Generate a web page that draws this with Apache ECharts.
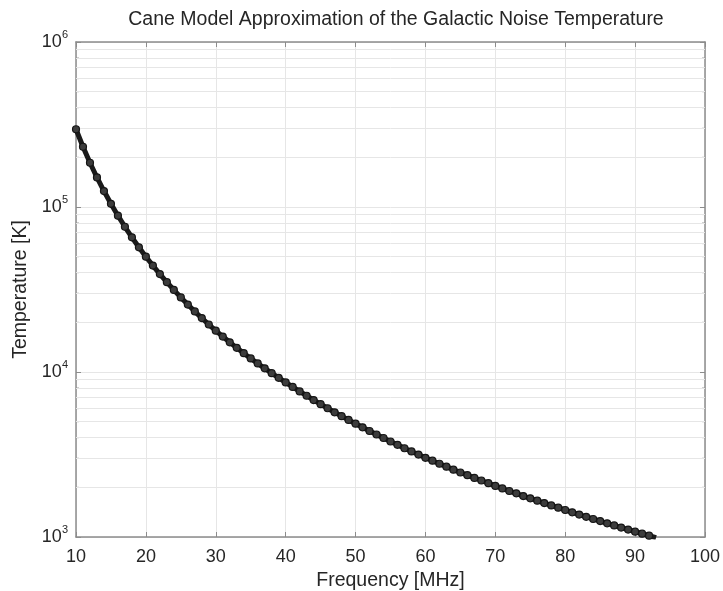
<!DOCTYPE html>
<html>
<head>
<meta charset="utf-8">
<script src="https://cdn.jsdelivr.net/npm/echarts@6/dist/echarts.min.js"></script>
<style>
  html, body { margin: 0; padding: 0; background: #fff; }
  #chart { width: 723px; height: 591px; }
</style>
</head>
<body>
<div id="chart"></div>
<script>
// Frequency samples (MHz)
const freqMHz = [
  10, 11, 12, 13, 14, 15, 16, 17, 18, 19,
  20, 21, 22, 23, 24, 25, 26, 27, 28, 29,
  30, 31, 32, 33, 34, 35, 36, 37, 38, 39,
  40, 41, 42, 43, 44, 45, 46, 47, 48, 49,
  50, 51, 52, 53, 54, 55, 56, 57, 58, 59,
  60, 61, 62, 63, 64, 65, 66, 67, 68, 69,
  70, 71, 72, 73, 74, 75, 76, 77, 78, 79,
  80, 81, 82, 83, 84, 85, 86, 87, 88, 89,
  90, 91, 92, 93
];

// Galactic noise temperature (K)
const tempK = [
  296000, 231800, 185400, 151000, 124900, 104600, 88600, 75900, 65500, 57000,
  50000, 44160, 39220, 35030, 31430, 28320, 25630, 23280, 21220, 19400,
  17800, 16400, 15140, 14010, 13010, 12090, 11270, 10520, 9840, 9220,
  8650, 8120, 7630, 7180, 6760, 6380, 6030, 5700, 5400, 5120,
  4860, 4620, 4390, 4180, 3980, 3790, 3620, 3450, 3300, 3160,
  3020, 2900, 2780, 2670, 2560, 2460, 2370, 2280, 2200, 2120,
  2040, 1970, 1900, 1840, 1770, 1715, 1660, 1605, 1554, 1505,
  1458, 1412, 1368, 1326, 1286, 1248, 1211, 1175, 1141, 1109,
  1077, 1047, 1018, 990
];

// Axis ranges and tick values
const xTicks = [10, 20, 30, 40, 50, 60, 70, 80, 90, 100];
const yDecades = [1e3, 1e4, 1e5, 1e6];
const yMinorTicks = [
  2e3, 3e3, 4e3, 5e3, 6e3, 7e3, 8e3, 9e3,
  2e4, 3e4, 4e4, 5e4, 6e4, 7e4, 8e4, 9e4,
  2e5, 3e5, 4e5, 5e5, 6e5, 7e5, 8e5, 9e5
];

const FONT = '"Liberation Sans", Arial, Helvetica, sans-serif';
const TEXT = '#262626';
const AXIS = '#8c8c8c';
const GRID = '#e6e6e6';

const curve = freqMHz.map((f, i) => [f, tempK[i]]);
const xMin = xTicks[0], xMax = xTicks[xTicks.length - 1];
const yMin = yDecades[0], yMax = yDecades[yDecades.length - 1];

function decadeLabel(v) {
  const e = Math.round(Math.log10(v));
  return '{b|10}{s|' + e + '}';
}
const decadeRich = {
  b: { fontSize: 18, fontFamily: FONT, color: TEXT, verticalAlign: 'middle' },
  s: { fontSize: 11, fontFamily: FONT, color: TEXT, verticalAlign: 'top', padding: [0, 0, 14, 0] }
};

const chart = echarts.init(document.getElementById('chart'), null, { renderer: 'canvas' });

chart.setOption({
  animation: false,
  backgroundColor: '#fff',
  title: {
    text: 'Cane Model Approximation of the Galactic Noise Temperature',
    left: 391,
    textAlign: 'center',
    top: 5,
    textStyle: { fontFamily: FONT, fontSize: 19.5, fontWeight: 'normal', color: TEXT }
  },
  grid: { left: 76, right: 18, top: 42, bottom: 54, containLabel: false, outerBoundsMode: 'none' },
  xAxis: [
    {
      type: 'value', min: xMin, max: xMax, interval: 10,
      name: 'Frequency [MHz]', nameLocation: 'middle', nameGap: 33,
      nameTextStyle: { fontFamily: FONT, fontSize: 19.5, color: TEXT },
      axisLine: { show: true, onZero: false, lineStyle: { color: AXIS, width: 1.5 } },
      axisTick: { show: true, inside: true, length: 5, lineStyle: { color: AXIS } },
      axisLabel: { fontFamily: FONT, fontSize: 18, color: TEXT, margin: 11 },
      splitLine: { show: true, lineStyle: { color: GRID, width: 1 } }
    },
    {
      type: 'value', min: xMin, max: xMax, interval: 10, position: 'top',
      axisLine: { show: true, onZero: false, lineStyle: { color: AXIS, width: 1.5 } },
      axisTick: { show: true, inside: true, length: 5, lineStyle: { color: AXIS } },
      axisLabel: { show: false },
      splitLine: { show: false }
    }
  ],
  yAxis: [
    {
      type: 'log', logBase: 10, min: yMin, max: yMax,
      name: 'Temperature [K]', nameLocation: 'middle', nameGap: 43,
      nameTextStyle: { fontFamily: FONT, fontSize: 19.5, color: TEXT },
      axisLine: { show: true, onZero: false, lineStyle: { color: AXIS, width: 1.5 } },
      axisTick: { show: true, inside: true, length: 5, lineStyle: { color: AXIS } },
      axisLabel: { formatter: decadeLabel, rich: decadeRich, margin: 8 },
      splitLine: { show: true, lineStyle: { color: GRID, width: 1 } }
    },
    {
      type: 'log', logBase: 10, min: yMin, max: yMax, position: 'right',
      axisLine: { show: true, onZero: false, lineStyle: { color: AXIS, width: 1.5 } },
      axisTick: { show: true, inside: true, length: 5, lineStyle: { color: AXIS } },
      axisLabel: { show: false },
      splitLine: { show: false }
    }
  ],
  series: [
    {
      // minor log grid lines
      type: 'line', data: [], z: 1, silent: true,
      markLine: {
        silent: true, symbol: ['none', 'none'], label: { show: false },
        lineStyle: { color: GRID, type: 'solid', width: 1 },
        data: yMinorTicks.map(v => ({ yAxis: v }))
      }
    },
    {
      // minor ticks on the left edge
      type: 'scatter', z: 2, silent: true,
      data: yMinorTicks.map(v => [xMin, v]),
      symbol: 'rect', symbolSize: [3, 1], symbolOffset: [1.5, 0],
      itemStyle: { color: AXIS }
    },
    {
      // minor ticks on the right edge
      type: 'scatter', z: 2, silent: true,
      data: yMinorTicks.map(v => [xMax, v]),
      symbol: 'rect', symbolSize: [3, 1], symbolOffset: [-1.5, 0],
      itemStyle: { color: AXIS }
    },
    {
      type: 'line', z: 5,
      data: curve,
      showSymbol: true, showAllSymbol: true,
      symbol: 'circle', symbolSize: 7,
      itemStyle: { color: '#3c3c3c', borderColor: '#151515', borderWidth: 1.2 },
      lineStyle: { color: '#1a1a1a', width: 5 },
      clip: true
    }
  ]
});
</script>
</body>
</html>
